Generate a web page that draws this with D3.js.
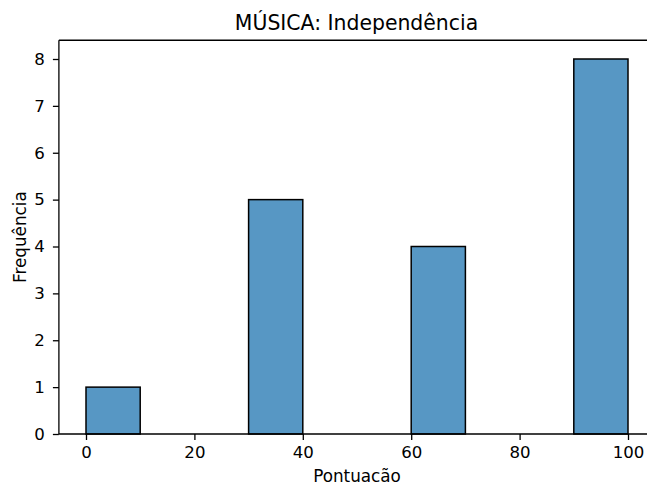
<!DOCTYPE html>
<html>
<head>
<meta charset="utf-8">
<script src="https://cdn.jsdelivr.net/npm/d3@7"></script>
<style>
  html, body { margin: 0; padding: 0; background: #fff; }
  svg { display: block; font-family: "DejaVu Sans", sans-serif; }
</style>
</head>
<body>
<svg id="chart" width="647" height="486"></svg>
<script>
// Histogram bins (lower edges) and counts
const binStarts = [0, 10, 20, 30, 40, 50, 60, 70, 80, 90];
const binWidth = 10;
const counts = [1, 0, 0, 5, 0, 0, 4, 0, 0, 8];
const xTicks = [0, 20, 40, 60, 80, 100];
const yTicks = [0, 1, 2, 3, 4, 5, 6, 7, 8];
const title = "MÚSICA: Independência";
const xLabel = "Pontuacão";
const yLabel = "Frequência";

const svg = d3.select("#chart");
const x = d3.scaleLinear().domain([-5, 105]).range([58.9, 655.1]);
const y = d3.scaleLinear().domain([0, 8.4]).range([434, 40.25]);

const bins = binStarts.map((s, i) => ({ x0: s, x1: s + binWidth, n: counts[i] }));

// Bars
svg.append("g").selectAll("rect")
  .data(bins.filter(d => d.n > 0))
  .join("rect")
  .attr("x", d => x(d.x0))
  .attr("y", d => y(d.n))
  .attr("width", d => x(d.x1) - x(d.x0))
  .attr("height", d => y(0) - y(d.n))
  .attr("fill", "#5797c4")
  .attr("stroke", "#000")
  .attr("stroke-width", 1.5);

// Axes
const xAxis = d3.axisBottom(x).tickValues(xTicks).tickSize(6).tickPadding(6);
const yAxis = d3.axisLeft(y).tickValues(yTicks).tickSize(6).tickPadding(8);

const gx = svg.append("g").attr("transform", `translate(0,${y(0)})`).call(xAxis);
const gy = svg.append("g").attr("transform", `translate(${x(-5)},0)`).call(yAxis);
[gx, gy].forEach(g => {
  g.select(".domain").remove();
  g.selectAll(".tick line").attr("stroke", "#000").attr("stroke-width", 1.3);
  g.selectAll(".tick text").attr("fill", "#000").attr("font-size", 16.6)
    .attr("font-family", "DejaVu Sans, sans-serif");
});

// Spines (left, bottom, top; right edge falls outside the canvas)
const spine = svg.append("g").attr("stroke", "#000").attr("stroke-width", 1.3).attr("fill", "none");
spine.append("line").attr("x1", x(-5)).attr("x2", x(-5)).attr("y1", y(0)).attr("y2", y(8.4));
spine.append("line").attr("x1", x(-5)).attr("x2", x(105)).attr("y1", y(0)).attr("y2", y(0));
spine.append("line").attr("x1", x(-5)).attr("x2", x(105)).attr("y1", y(8.4)).attr("y2", y(8.4));

// Title and axis labels
svg.append("text").attr("x", 356.5).attr("y", 30)
  .attr("text-anchor", "middle").attr("font-size", 20.4).text(title);
svg.append("text").attr("x", 357).attr("y", 482)
  .attr("text-anchor", "middle").attr("font-size", 16.8).text(xLabel);
svg.append("text").attr("transform", `translate(26,${(y(0) + y(8.4)) / 2}) rotate(-90)`)
  .attr("text-anchor", "middle").attr("font-size", 16.8).text(yLabel);
</script>
</body>
</html>
